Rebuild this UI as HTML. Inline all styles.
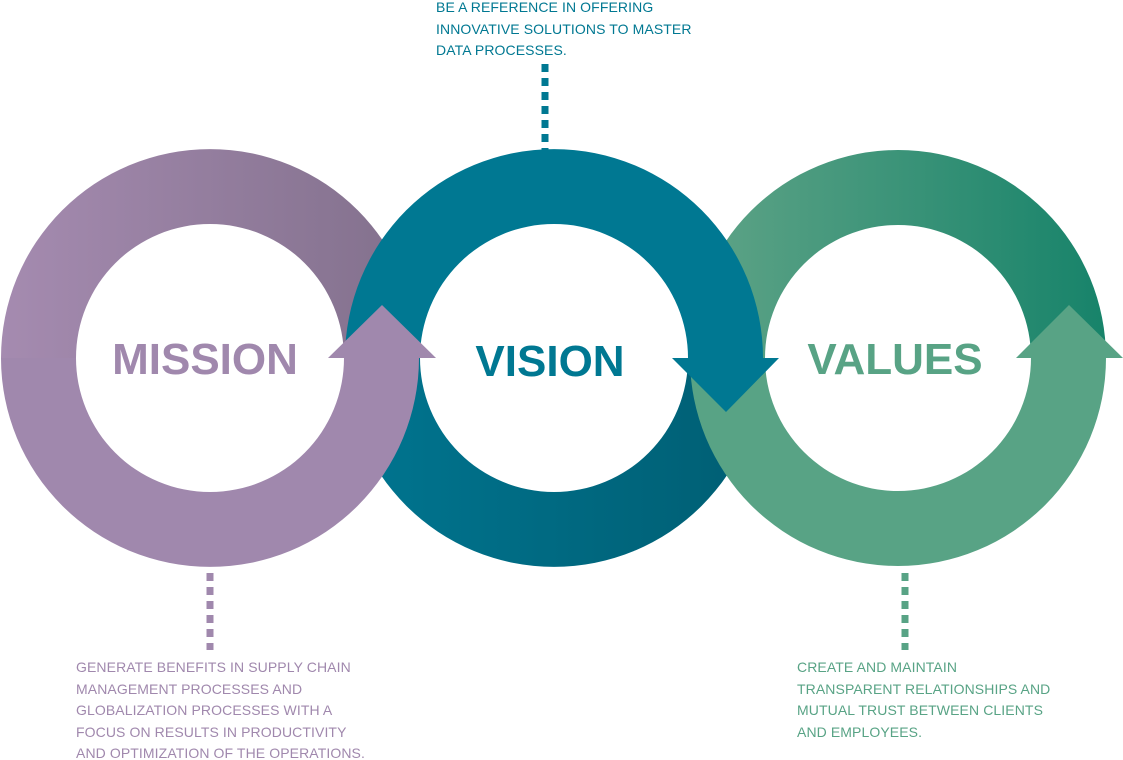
<!DOCTYPE html>
<html><head><meta charset="utf-8"><style>
html,body{margin:0;padding:0;background:#fff;width:1123px;height:760px;overflow:hidden;position:relative;font-family:"Liberation Sans",sans-serif}
.t{position:absolute;font-size:14px;line-height:21.5px;letter-spacing:0.1px}
</style></head><body>
<svg width="1123" height="760" style="position:absolute;left:0;top:0">
<defs>
<linearGradient id="mt" x1="0" x2="1"><stop offset="0" stop-color="#a58bb0"/><stop offset="1" stop-color="#82708c"/></linearGradient>
<linearGradient id="vb" x1="0" x2="1"><stop offset="0" stop-color="#007590"/><stop offset="1" stop-color="#005e73"/></linearGradient>
<linearGradient id="gt" x1="0" x2="1"><stop offset="0" stop-color="#60a487"/><stop offset="1" stop-color="#17836a"/></linearGradient>
</defs>
<path d="M1 358 A209 209 0 0 1 419 358 L344 358 A134 134 0 0 0 76 358Z" fill="url(#mt)"/>
<path d="M690 358 A208 208 0 0 1 1106 358 L1031 358 A133 133 0 0 0 765 358Z" fill="url(#gt)"/>
<path d="M345 358 A209 209 0 0 1 763 358 L688 358 A134 134 0 0 0 420 358Z" fill="#007892"/>
<path d="M763 358 A209 209 0 0 1 345 358 L420 358 A134 134 0 0 0 688 358Z" fill="url(#vb)"/>
<path d="M419 358 A209 209 0 0 1 1 358 L76 358 A134 134 0 0 0 344 358Z" fill="#a088ad"/>
<path d="M1106 358 A208 208 0 0 1 690 358 L765 358 A133 133 0 0 0 1031 358Z" fill="#58a385"/>
<polygon points="328,358 382,305 436,358" fill="#a088ad"/>
<polygon points="672,358 726,412 779,358" fill="#007892"/>
<polygon points="1016,358 1069,305 1123,358" fill="#58a385"/>
<line x1="545" y1="64" x2="545" y2="150" stroke="#007892" stroke-width="7" stroke-dasharray="8,6"/>
<line x1="210" y1="573" x2="210" y2="650" stroke="#a088ad" stroke-width="7" stroke-dasharray="8,6"/>
<line x1="905" y1="573" x2="905" y2="650" stroke="#58a385" stroke-width="7" stroke-dasharray="8,6"/>
<text x="205" y="374" text-anchor="middle" font-family="Liberation Sans" font-weight="bold" font-size="44" fill="#a088ad">MISSION</text>
<text x="550" y="376" text-anchor="middle" font-family="Liberation Sans" font-weight="bold" font-size="44" fill="#007892">VISION</text>
<text x="895" y="374" text-anchor="middle" font-family="Liberation Sans" font-weight="bold" font-size="44" fill="#58a385">VALUES</text>
</svg>
<div class="t" style="left:436px;top:-3px;color:#007892">BE A REFERENCE IN OFFERING<br>INNOVATIVE SOLUTIONS TO MASTER<br>DATA PROCESSES.</div>
<div class="t" style="left:76px;top:657px;color:#a088ad">GENERATE BENEFITS IN SUPPLY CHAIN<br>MANAGEMENT PROCESSES AND<br>GLOBALIZATION PROCESSES WITH A<br>FOCUS ON RESULTS IN PRODUCTIVITY<br>AND OPTIMIZATION OF THE OPERATIONS.</div>
<div class="t" style="left:797px;top:657px;color:#58a385">CREATE AND MAINTAIN<br>TRANSPARENT RELATIONSHIPS AND<br>MUTUAL TRUST BETWEEN CLIENTS<br>AND EMPLOYEES.</div>
</body></html>
